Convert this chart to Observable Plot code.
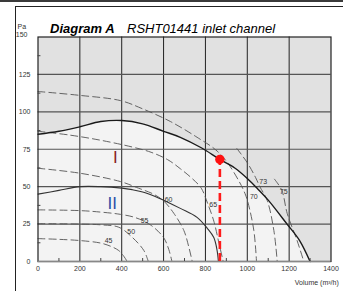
<!DOCTYPE html>
<html><head><meta charset="utf-8">
<script src="https://cdn.jsdelivr.net/npm/d3@7"></script>
<script src="https://cdn.jsdelivr.net/npm/@observablehq/plot@0.6"></script>
<style>
body{margin:0;background:#fff;}
#wrap{position:relative;width:343px;height:291px;background:#fff;overflow:hidden;font-family:"Liberation Sans",Arial,sans-serif;}
</style>
</head><body>
<div id="wrap">
  <div style="position:absolute;left:0;top:0;width:343px;height:2px;background:#3a3a3a"></div>
  <div style="position:absolute;left:15px;top:6px;right:-2px;bottom:-2px;border-top:1.5px solid #222;border-left:1.5px solid #222"></div>
  <div id="chart" style="position:absolute;left:0;top:0"></div>
</div>
<script>
// Fan curve I (high speed)
const curveIx = [0, 100, 200, 300, 400, 500, 600, 680, 780, 869, 940, 1000, 1050, 1100, 1190, 1250, 1300];
const curveIy = [85, 87, 90, 93.5, 94.2, 92, 87, 83, 76, 68.2, 62.5, 55.5, 48.5, 41, 25, 14, 0];
// Fan curve II (low speed)
const curveIIx = [0, 100, 200, 300, 400, 450, 500, 560, 600, 680, 760, 810, 840, 855, 862];
const curveIIy = [45, 47.5, 50, 50, 49, 48, 46.5, 43.5, 41, 35.5, 29.5, 22, 16, 8, 0];
// Sound level isolines (dB)
const iso45x = [0, 100, 200, 300, 350, 386, 410, 426];
const iso45y = [15.3, 14.8, 14, 12.3, 10, 7.3, 3.5, 0];
const iso50x = [0, 200, 300, 386, 450, 506, 527];
const iso50y = [25.3, 25, 24.5, 22.9, 16.2, 7.3, 0];
const iso55x = [0, 200, 300, 394, 466, 537, 600, 625, 640];
const iso55y = [34.5, 34, 33, 31.5, 29.3, 24.5, 16, 8, 0];
const iso60x = [0, 200, 394, 480, 552, 600, 650, 697, 720, 737];
const iso60y = [62.3, 59, 53.4, 49, 45, 40.5, 32, 20.7, 10, 0];
const iso65x = [0, 150, 300, 450, 540, 620, 680, 740, 780, 810, 840, 865, 885];
const iso65y = [87, 84.5, 81, 76.5, 73, 68, 62, 55, 49, 39, 27, 12, 0];
const iso70x = [0, 200, 394, 500, 633, 760, 850, 904, 959, 983, 1000, 1031, 1044];
const iso70y = [113.6, 111, 107.5, 102, 93.5, 83, 74.5, 66.3, 54, 47.4, 41, 21, 0];
const iso73x = [950, 1000, 1040, 1060, 1095, 1127, 1143];
const iso73y = [75.5, 66, 56, 50, 40.8, 20.7, 0];
const iso75x = [1130, 1165, 1191, 1238, 1270];
const iso75y = [55, 47.5, 32, 14, 0];
const isoNames = ["45", "50", "55", "60", "65", "70", "73", "75"];
const isoLabelX = [337, 445, 509, 624, 837, 1031, 1076, 1174];
const isoLabelY = [14, 20, 27.4, 41.2, 37.9, 43, 53, 46.3];
// Operating point
const opX = [869];
const opY = [68.2];
// Curve names
const curveNames = ["I", "II"];
const curveNameX = [370, 355];
const curveNameY = [69.5, 38.5];
const curveNameColors = ["#8b2323", "#2a50a8"];
// Axes
const xTicks = [0, 200, 400, 600, 800, 1000, 1200, 1400];
const xGrid = [200, 400, 600, 800, 1000, 1200];
const xMinor = [100, 300, 500, 700, 900, 1100, 1300];
const yTicks = [0, 25, 50, 75, 100, 125];
const yTop = [150];
const yGrid = [25, 50, 75, 100, 125];
const yMinor = [12.5, 37.5, 62.5, 87.5, 112.5, 137.5];

const pts = (xs, ys) => xs.map((x, i) => ({x, y: ys[i]}));
const isoSets = [[iso45x, iso45y], [iso50x, iso50y], [iso55x, iso55y], [iso60x, iso60y],
                 [iso65x, iso65y], [iso70x, iso70y], [iso73x, iso73y], [iso75x, iso75y]];
const isoData = isoSets.flatMap(([xs, ys], k) => pts(xs, ys).map(d => ({...d, k: isoNames[k]})));
const I = pts(curveIx, curveIy);
const II = pts(curveIIx, curveIIy);
const isoLabels = isoNames.map((t, i) => ({t, x: isoLabelX[i], y: isoLabelY[i]}));
const op = pts(opX, opY);
const names = curveNames.map((t, i) => ({t, x: curveNameX[i], y: curveNameY[i], c: curveNameColors[i]}));
const plain = d => String(d);

const chart = Plot.plot({
  width: 343, height: 291,
  marginLeft: 37.5, marginRight: 12.5, marginTop: 36.5, marginBottom: 30,
  x: {domain: [0, 1400]},
  y: {domain: [0, 150]},
  style: {fontFamily: "'Liberation Sans', Arial, sans-serif", background: "transparent", overflow: "visible"},
  marks: [
    Plot.frame({fill: "#e1e1e1", stroke: null}),
    Plot.areaY(I, {x: "x", y: "y", fill: "#f3f3f3", curve: "catmull-rom"}),
    Plot.gridX(xGrid, {stroke: "#222", strokeOpacity: 1, strokeWidth: 1}),
    Plot.gridY(yGrid, {stroke: "#555", strokeOpacity: 1, strokeWidth: 1.2}),
    Plot.line(isoData, {x: "x", y: "y", z: "k", stroke: "#555", strokeWidth: 0.9, strokeDasharray: "7,4", curve: "catmull-rom"}),
    Plot.line(II, {x: "x", y: "y", stroke: "#333", strokeWidth: 1.1, curve: "catmull-rom"}),
    Plot.line(I, {x: "x", y: "y", stroke: "#1a1a1a", strokeWidth: 1.4, curve: "catmull-rom"}),
    Plot.frame({stroke: "#222", strokeWidth: 1.2}),
    Plot.ruleY([0], {stroke: "#888", strokeWidth: 1.6}),
    Plot.ruleX(xMinor, {y1: 0, y2: 2, stroke: "#444", strokeWidth: 1}),
    Plot.ruleY(yMinor, {x1: 0, x2: 14, stroke: "#444", strokeWidth: 1}),
    Plot.ruleX(op, {x: "x", y1: 0, y2: "y", stroke: "#ff1a1a", strokeWidth: 2.6, strokeDasharray: "8,4"}),
    Plot.dot(op, {x: "x", y: "y", r: 4.7, fill: "#ff1010", stroke: null}),
    Plot.text(isoLabels, {x: "x", y: "y", text: "t", fontSize: 7, fill: "#333"}),
    Plot.text(names, {x: "x", y: "y", text: "t", fontSize: 17, fill: "c"}),
    Plot.axisX(xTicks, {tickSize: 0, tickPadding: 5, fontSize: 7, fill: "#333", label: null, tickFormat: plain}),
    Plot.axisY(yTicks, {tickSize: 0, tickPadding: 7.5, fontSize: 7, fill: "#333", label: null, tickFormat: plain}),
    Plot.axisY(yTop, {tickSize: 0, tickPadding: 10.5, dy: -2.5, fontSize: 7, fill: "#333", label: null, tickFormat: plain}),
    Plot.text(["Pa"], {frameAnchor: "top-left", dx: -20.5, dy: -13, textAnchor: "start", fontSize: 7, fill: "#333"}),
    Plot.text(["Diagram A"], {frameAnchor: "top-left", dx: 12, dy: -13.5, textAnchor: "start", fontSize: 13, fontWeight: "bold", fontStyle: "italic", fill: "#000"}),
    Plot.text(["RSHT01441 inlet channel"], {frameAnchor: "top-left", dx: 89, dy: -13.5, textAnchor: "start", fontSize: 13, fontStyle: "italic", fill: "#000"}),
    Plot.text(["Volume (m³/h)"], {frameAnchor: "bottom-right", dx: 7.8, dy: 23, textAnchor: "end", fontSize: 7, fill: "#333"})
  ]
});
document.getElementById("chart").appendChild(chart);
</script>
</body></html>
